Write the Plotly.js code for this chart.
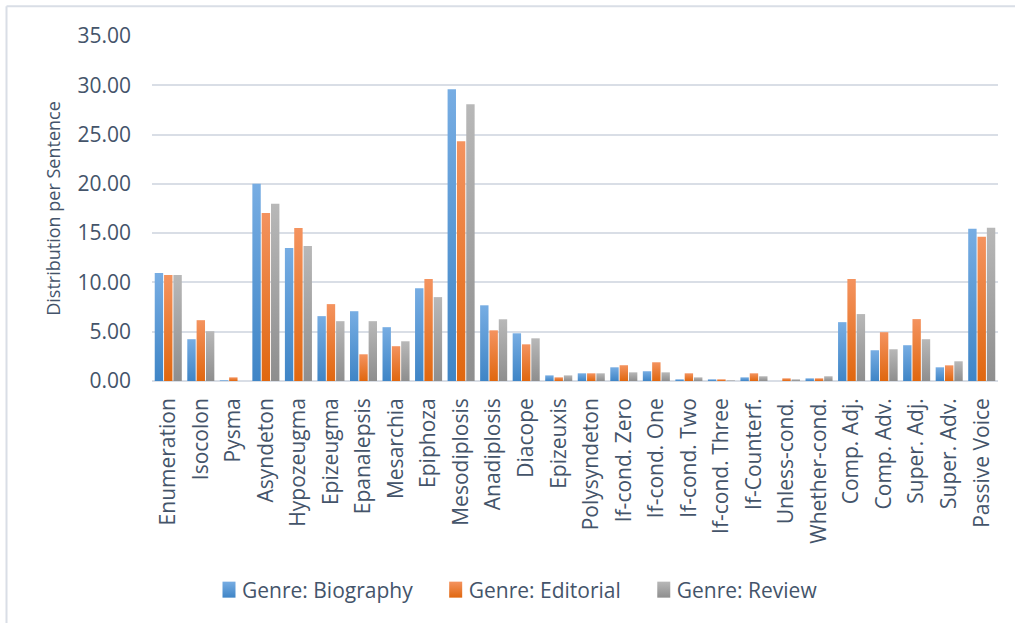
<!DOCTYPE html>
<html>
<head>
<meta charset="utf-8">
<script src="https://cdn.plot.ly/plotly-3.0.1.min.js"></script>
<style>
  html, body { margin: 0; padding: 0; background: #ffffff; }
  #chart { width: 1015px; height: 623px; }
</style>
</head>
<body>
<div id="chart"></div>
<script>
// Rhetorical / grammatical device frequency by genre
const categories = [
  'Enumeration', 'Isocolon', 'Pysma', 'Asyndeton', 'Hypozeugma', 'Epizeugma',
  'Epanalepsis', 'Mesarchia', 'Epiphoza', 'Mesodiplosis', 'Anadiplosis', 'Diacope',
  'Epizeuxis', 'Polysyndeton', 'If-cond. Zero', 'If-cond. One', 'If-cond. Two',
  'If-cond. Three', 'If-Counterf.', 'Unless-cond.', 'Whether-cond.', 'Comp. Adj.',
  'Comp. Adv.', 'Super. Adj.', 'Super. Adv.', 'Passive Voice'
];
const biography = [10.95, 4.24, 0.07, 20.00, 13.49, 6.58, 7.08, 5.46, 9.42, 29.59, 7.68, 4.84,
  0.57, 0.78, 1.39, 0.99, 0.17, 0.17, 0.37, 0.00, 0.27, 5.97, 3.12, 3.63, 1.39, 15.44];
const editorial = [10.75, 6.17, 0.37, 17.05, 15.53, 7.80, 2.71, 3.53, 10.34, 24.32, 5.14, 3.72,
  0.37, 0.78, 1.60, 1.90, 0.78, 0.17, 0.78, 0.27, 0.27, 10.35, 4.95, 6.28, 1.59, 14.63];
const review = [10.75, 5.05, 0.00, 17.97, 13.69, 6.07, 6.07, 4.03, 8.51, 28.07, 6.26, 4.33,
  0.57, 0.78, 0.88, 0.88, 0.37, 0.07, 0.48, 0.17, 0.48, 6.79, 3.22, 4.24, 2.00, 15.54];
const seriesNames = ['Genre: Biography', 'Genre: Editorial', 'Genre: Review'];
const yTicks = [0, 5, 10, 15, 20, 25, 30, 35];

// Fill styles: flat fallback colour plus top/bottom gradient stops
const baseColors = ['#5B9BD5', '#ED7D31', '#A5A5A5'];
const gradStops = [['#77ADE3', '#3F85C6'], ['#F4935F', '#E0670F'], ['#B8B8B8', '#8E8E8E']];

const W = 1015, H = 623;
const M = { l: 152, r: 17, t: 36, b: 242 };
const plotW = W - M.l - M.r, plotH = H - M.t - M.b;
const px2x = p => (p - M.l) / plotW;
const px2y = p => (H - M.b - p) / plotH;

const textColor = '#44546A';
const gridColor = '#D9DEE6';

const traces = [biography, editorial, review].map((vals, i) => ({
  type: 'bar',
  name: seriesNames[i],
  x: categories,
  y: vals,
  marker: { color: baseColors[i], line: { width: 0 } },
  hoverinfo: 'skip'
}));

const layout = {
  width: W, height: H,
  margin: M,
  paper_bgcolor: '#ffffff',
  plot_bgcolor: '#ffffff',
  font: { family: '"Open Sans", "Noto Sans", sans-serif', color: textColor },
  barmode: 'group',
  bargap: 0.14,
  bargroupgap: 0.1,
  hovermode: false,
  showlegend: true,
  legend: {
    orientation: 'h',
    xref: 'container', yref: 'container',
    x: 209 / W, xanchor: 'left',
    y: 1 - 590 / H, yanchor: 'middle',
    font: { size: 21, color: textColor },
    bgcolor: 'rgba(0,0,0,0)',
    borderwidth: 0
  },
  xaxis: {
    type: 'category',
    tickangle: -90,
    tickfont: { size: 21, color: textColor },
    ticklabelstandoff: 12,
    showgrid: false,
    showline: false,
    zeroline: false,
    ticks: '',
    fixedrange: true
  },
  yaxis: {
    range: [0, 35],
    tickvals: yTicks,
    tickformat: '.2f',
    tickfont: { size: 21, color: textColor },
    ticklabelstandoff: 20,
    showgrid: true,
    gridcolor: gridColor,
    gridwidth: 2,
    zeroline: true,
    zerolinecolor: gridColor,
    zerolinewidth: 2,
    showline: false,
    ticks: '',
    fixedrange: true,
    title: {
      text: 'Distribution per Sentence',
      font: { size: 18, color: textColor },
      standoff: 12
    }
  },
  shapes: [
    // chart frame edges (left and top)
    { type: 'line', xref: 'paper', yref: 'paper', layer: 'above',
      x0: px2x(6.5), x1: px2x(6.5), y0: px2y(6.2), y1: px2y(640),
      line: { color: gridColor, width: 2 } },
    { type: 'line', xref: 'paper', yref: 'paper', layer: 'above',
      x0: px2x(6.5), x1: px2x(1030), y0: px2y(6.2), y1: px2y(6.2),
      line: { color: gridColor, width: 2 } }
  ]
};

const NS = 'http://www.w3.org/2000/svg';

function applyGradients(gd) {
  const svg = gd.querySelector('svg.main-svg');
  let defs = svg.querySelector('defs');
  if (!defs) { defs = document.createElementNS(NS, 'defs'); svg.insertBefore(defs, svg.firstChild); }
  gradStops.forEach((s, i) => {
    const g = document.createElementNS(NS, 'linearGradient');
    g.setAttribute('id', 'barGrad' + i);
    g.setAttribute('x1', '0'); g.setAttribute('y1', '0');
    g.setAttribute('x2', '0'); g.setAttribute('y2', '1');
    [[0, s[0]], [1, s[1]]].forEach(([off, col]) => {
      const st = document.createElementNS(NS, 'stop');
      st.setAttribute('offset', off);
      st.setAttribute('stop-color', col);
      g.appendChild(st);
    });
    defs.appendChild(g);
  });
  gd.querySelectorAll('.barlayer .trace').forEach((tr, i) => {
    tr.querySelectorAll('.point path').forEach(p => { p.style.fill = 'url(#barGrad' + i + ')'; });
  });
}

function styleLegend(gd) {
  const items = gd.querySelectorAll('.legend .traces');
  const scroll = gd.querySelector('.legend .scrollbox');
  if (scroll) scroll.removeAttribute('clip-path');
  const textX = 33;      // text start inside an item
  const gapAfter = 23;   // space between text end and next item origin
  let x = null;
  items.forEach((item, i) => {
    const sw = item.querySelector('.legendpoints path');
    if (sw) {
      sw.setAttribute('d', 'M6.5,8H-6.5V-8H6.5Z');
      sw.style.fill = 'url(#barGrad' + i + ')';
    }
    const txt = item.querySelector('.legendtext');
    if (txt) txt.setAttribute('x', textX);
    const m = /translate\(\s*([-\d.]+)[ ,]+([-\d.]+)\s*\)/.exec(item.getAttribute('transform') || '');
    if (!m) return;
    if (x === null) x = parseFloat(m[1]);
    item.setAttribute('transform', 'translate(' + x + ',' + m[2] + ')');
    const tw = txt ? txt.getComputedTextLength() : 0;
    x += textX + tw + gapAfter;
  });
}

Plotly.newPlot('chart', traces, layout, { staticPlot: true, displayModeBar: false })
  .then(gd => { applyGradients(gd); styleLegend(gd); });
</script>
</body>
</html>
